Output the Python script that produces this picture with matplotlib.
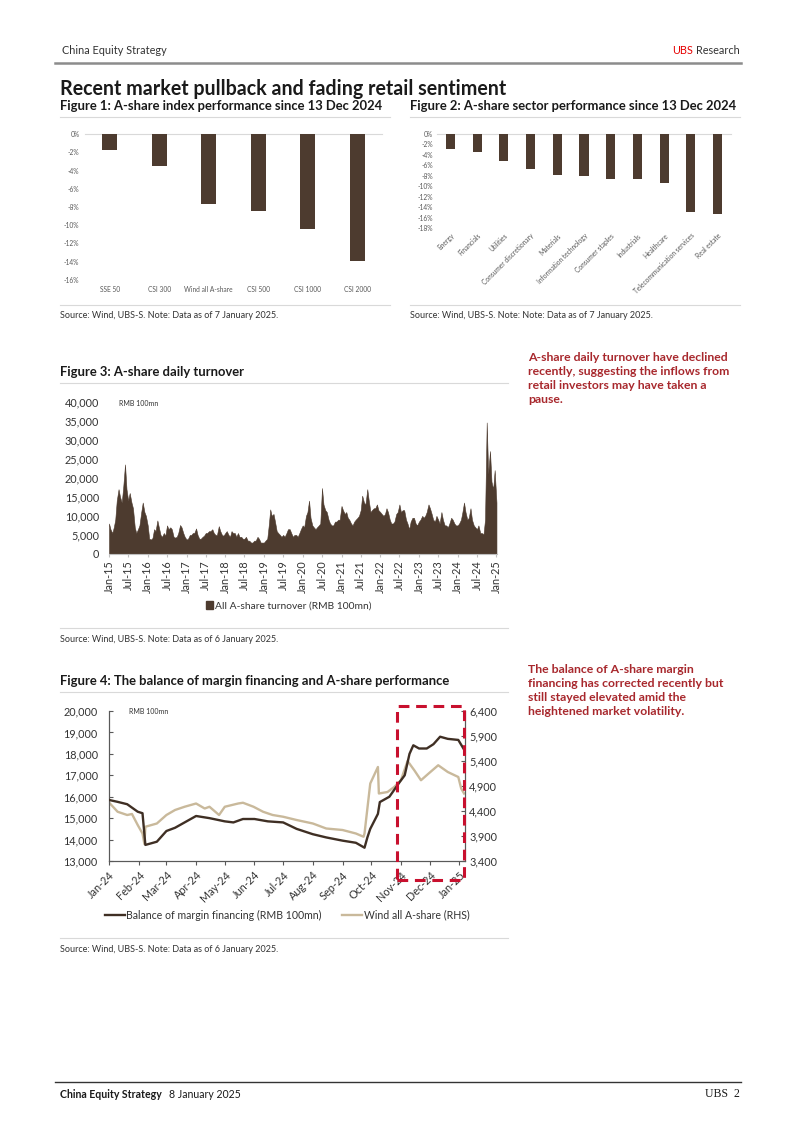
import numpy as np
import pandas as pd
import matplotlib.pyplot as plt
import matplotlib.dates as mdates
import matplotlib.transforms as mtransforms
from matplotlib.lines import Line2D
from matplotlib.patches import Rectangle, Patch

plt.rcParams['font.family'] = ['Lato', 'DejaVu Sans']

W, H = 802, 1134

# ---------------- data ----------------
idx_names = ['SSE 50', 'CSI 300', 'Wind all A-share', 'CSI 500', 'CSI 1000', 'CSI 2000']
idx_perf = [-1.7, -3.5, -7.7, -8.4, -10.4, -13.9]

sector_names = ['Energy', 'Financials', 'Utilities', 'Consumer discretionary', 'Materials',
                'Information technology', 'Consumer staples', 'Industrials', 'Healthcare',
                'Telecommunication services', 'Real estate']
sector_perf = [-2.9, -3.5, -5.1, -6.7, -7.8, -8.0, -8.6, -8.7, -9.3, -14.9, -15.3]

# A-share turnover, RMB 100mn, two readings per month (1st / 15th)
turn_2015 = [8000, 6500, 5500, 7000, 9000, 14000, 17000, 15000, 13500, 17500, 23500, 17000,
             14000, 16000, 13500, 12000, 7000, 5500, 6500, 7500, 11000, 13500, 11000, 10000]
turn_2016 = [7500, 4000, 3800, 4200, 6500, 6000, 8800, 7000, 5000, 4500, 5500, 4800,
             7500, 6500, 7000, 6500, 4500, 4300, 4500, 5500, 7600, 7000, 5500, 4500]
turn_2017 = [3800, 4000, 5000, 5000, 5500, 5500, 6700, 5000, 4000, 4000, 4500, 4800,
             5500, 5500, 6000, 6000, 6500, 5500, 5000, 5000, 7300, 6000, 5000, 4800]
turn_2018 = [5500, 6000, 5000, 4500, 6000, 5500, 5500, 4500, 5500, 4500, 4500, 4000,
             4000, 4500, 3500, 3500, 3000, 3000, 3500, 3500, 4500, 4000, 3000, 3000]
turn_2019 = [3000, 3500, 4000, 7500, 11700, 10000, 10500, 8500, 6000, 5500, 5000, 4500,
             5000, 4500, 5500, 6500, 6500, 5500, 4500, 5000, 5000, 4500, 5500, 6500]
turn_2020 = [7500, 7000, 10000, 11000, 14000, 9500, 7500, 7000, 6500, 7000, 7500, 8000,
             17300, 13000, 11500, 11000, 9000, 8000, 7500, 7500, 8500, 8500, 9000, 9000]
turn_2021 = [12600, 11500, 10500, 11000, 9500, 9000, 8000, 7500, 8500, 9000, 9500, 10000,
             11500, 15300, 13500, 13000, 17000, 14000, 11000, 11500, 12000, 12000, 13000, 11500]
turn_2022 = [11000, 10500, 10000, 10500, 12000, 11000, 9000, 8000, 8000, 8500, 10500, 11000,
             13000, 11000, 11500, 11500, 9000, 8000, 6500, 8500, 9500, 9500, 8000, 7500]
turn_2023 = [8500, 9000, 10000, 9500, 10000, 11000, 13000, 12000, 10500, 9000, 8500, 10000,
             9000, 8000, 11000, 9000, 7500, 7500, 7000, 8000, 9500, 9000, 8000, 7500]
turn_2024 = [7500, 8000, 9000, 11000, 13500, 11000, 9000, 9500, 12000, 9000, 7500, 7000,
             6500, 7500, 5500, 5500, 5200, 9000, 34500, 21000, 27000, 19000, 17000, 22000]
turn_2025 = [13500]

# margin financing balance (RMB 100mn)
margin_dates = ['2024-01-02', '2024-01-10', '2024-01-20', '2024-01-31', '2024-02-05',
                '2024-02-08', '2024-02-20', '2024-03-01', '2024-03-10', '2024-03-20',
                '2024-04-01', '2024-04-15', '2024-05-01', '2024-05-10', '2024-05-20',
                '2024-06-01', '2024-06-15', '2024-07-01', '2024-07-15', '2024-08-01',
                '2024-08-15', '2024-09-01', '2024-09-15', '2024-09-24', '2024-09-27',
                '2024-09-30', '2024-10-08', '2024-10-10', '2024-10-20', '2024-10-31',
                '2024-11-05', '2024-11-10', '2024-11-14', '2024-11-20', '2024-11-28',
                '2024-12-05', '2024-12-12', '2024-12-20', '2024-12-31', '2025-01-06']
margin_vals = [15840, 15760, 15650, 15300, 15230,
               13750, 13900, 14400, 14550, 14800,
               15100, 15000, 14850, 14800, 14960,
               14960, 14850, 14800, 14500, 14250,
               14100, 13950, 13850, 13620, 14100,
               14500, 15200, 15750, 16000, 16700,
               17000, 18000, 18400, 18250, 18250,
               18450, 18800, 18700, 18650, 18200]

# Wind all A-share index (RHS)
ashare_dates = ['2024-01-02', '2024-01-10', '2024-01-20', '2024-01-25', '2024-01-31',
                '2024-02-05', '2024-02-07', '2024-02-08', '2024-02-20', '2024-03-01',
                '2024-03-10', '2024-03-20', '2024-04-01', '2024-04-10', '2024-04-15',
                '2024-04-25', '2024-05-01', '2024-05-15', '2024-05-20', '2024-05-31',
                '2024-06-10', '2024-06-20', '2024-07-01', '2024-07-15', '2024-08-01',
                '2024-08-15', '2024-09-01', '2024-09-15', '2024-09-23', '2024-09-24',
                '2024-09-30', '2024-10-08', '2024-10-09', '2024-10-18', '2024-10-25',
                '2024-11-01', '2024-11-08', '2024-11-15', '2024-11-22', '2024-11-30',
                '2024-12-10', '2024-12-20', '2024-12-31', '2025-01-03', '2025-01-06']
ashare_vals = [4550, 4385, 4320, 4340, 4120,
               3950, 3740, 4085, 4150, 4320,
               4420, 4485, 4550, 4450, 4485,
               4320, 4485, 4550, 4565, 4485,
               4385, 4320, 4285, 4220, 4150,
               4050, 4020, 3950, 3885, 3950,
               4950, 5280, 4750, 4780, 4880,
               5015, 5400, 5215, 5015, 5150,
               5315, 5180, 5080, 4850, 4750]

brown = '#4d3b2f'
beige = '#c9b99b'
red_txt = '#a8282d'
grey_txt = '#595959'


def fx(px):
    return px / W


def fy(py):
    return 1 - py / H


def add_ax(left, top, right, bottom):
    return fig.add_axes([fx(left), fy(bottom), (right - left) / W, (bottom - top) / H])


def hline(y, x0, x1, color='#d9d9d9', lw=0.8):
    fig.add_artist(Line2D([fx(x0), fx(x1)], [fy(y), fy(y)], color=color, lw=lw))


fig = plt.figure(figsize=(W / 100, H / 100), dpi=100)
renderer = fig.canvas.get_renderer()

# ---------------- page header ----------------
fig.text(fx(62), fy(51), 'China Equity Strategy', fontsize=7.8, color='#333333', va='center')
t_res = fig.text(fx(740), fy(51), 'Research', fontsize=7.8, color='#333333', va='center',
                 ha='right')
bb = t_res.get_window_extent(renderer)
fig.text((bb.x0 - 3) / W, fy(51), 'UBS', fontsize=7.8, color='#e60000', va='center',
         ha='right')
hline(63, 55, 741, color='#8c8c8c', lw=1.8)

fig.text(fx(60), fy(89), 'Recent market pullback and fading retail sentiment',
         fontsize=14.1, fontweight='bold', color='#1a1a1a', va='center')

# ---------------- figure 1 ----------------
fig.text(fx(60), fy(106), 'Figure 1: A-share index performance since 13 Dec 2024',
         fontsize=9.4, fontweight='bold', color='#1a1a1a', va='center')
hline(117, 60, 390)
ax1 = add_ax(85, 134, 382, 280)
x1 = np.arange(len(idx_names))
ax1.bar(x1, idx_perf, width=0.3, color=brown)
ax1.axhline(0, color='#d9d9d9', lw=0.8, zorder=0, clip_on=False)
ax1.set_ylim(-16, 0)
ax1.set_xlim(-0.5, len(idx_names) - 0.5)
ax1.set_yticks(np.arange(-16, 1, 2))
ax1.set_yticklabels([f'{v}%' for v in np.arange(-16, 1, 2)])
ax1.set_xticks(x1)
ax1.set_xticklabels(idx_names)
ax1.tick_params(length=0, labelsize=4.8, labelcolor=grey_txt, pad=4)
for s in ax1.spines.values():
    s.set_visible(False)
hline(305, 60, 390)
fig.text(fx(60), fy(315), 'Source: Wind, UBS-S. Note: Data as of 7 January 2025.',
         fontsize=6.5, color='#333333', va='center')

# ---------------- figure 2 ----------------
fig.text(fx(410), fy(106), 'Figure 2: A-share sector performance since 13 Dec 2024',
         fontsize=9.4, fontweight='bold', color='#1a1a1a', va='center')
hline(117, 410, 740)
ax2 = add_ax(437, 134, 731, 228)
x2 = np.arange(len(sector_names))
ax2.bar(x2, sector_perf, width=0.34, color=brown)
ax2.axhline(0, color='#d9d9d9', lw=0.8, zorder=0, clip_on=False)
ax2.set_ylim(-18, 0)
ax2.set_xlim(-0.5, len(sector_names) - 0.5)
ax2.set_yticks(np.arange(-18, 1, 2))
ax2.set_yticklabels([f'{v}%' for v in np.arange(-18, 1, 2)])
ax2.set_xticks(x2)
ax2.set_xticklabels(sector_names, rotation=45, ha='right', rotation_mode='anchor')
ax2.tick_params(length=0, labelsize=4.8, labelcolor=grey_txt, pad=3)
for s in ax2.spines.values():
    s.set_visible(False)
hline(305, 410, 740)
fig.text(fx(410), fy(315), 'Source: Wind, UBS-S. Note: Note: Data as of 7 January 2025.',
         fontsize=6.5, color='#333333', va='center')

# ---------------- figure 3 ----------------
fig.text(fx(60), fy(372), 'Figure 3: A-share daily turnover',
         fontsize=9.4, fontweight='bold', color='#1a1a1a', va='center')
hline(383, 60, 508)
turnover = (turn_2015 + turn_2016 + turn_2017 + turn_2018 + turn_2019 + turn_2020
            + turn_2021 + turn_2022 + turn_2023 + turn_2024 + turn_2025)
turn_dates = pd.date_range('2015-01-01', periods=len(turnover), freq='SMS')
ax3 = add_ax(109, 401.5, 497, 554)
ax3.fill_between(turn_dates, turnover, 0, color=brown, lw=0.4, edgecolor=brown)
ax3.set_ylim(0, 40000)
ax3.set_xlim(pd.Timestamp('2015-01-01'), pd.Timestamp('2025-01-06'))
ax3.set_yticks(np.arange(0, 40001, 5000))
ax3.yaxis.set_major_formatter(plt.FuncFormatter(lambda v, p: f'{v:,.0f}'))
ax3.xaxis.set_major_locator(mdates.MonthLocator(bymonth=[1, 7]))
ax3.xaxis.set_major_formatter(mdates.DateFormatter('%b-%y'))
ax3.tick_params(axis='x', rotation=90, labelsize=7.8, labelcolor='#333333',
                length=2.5, color='#bfbfbf', pad=2)
ax3.tick_params(axis='y', length=0, labelsize=7.8, labelcolor='#333333', pad=7)
for s in ['top', 'right', 'left']:
    ax3.spines[s].set_visible(False)
ax3.spines['bottom'].set_color('#bfbfbf')
ax3.text(0.025, 0.985, 'RMB 100mn', transform=ax3.transAxes, fontsize=5, color='#333333',
         va='center')
fig.legend(handles=[Patch(color=brown, label='All A-share turnover (RMB 100mn)')],
           loc='center', bbox_to_anchor=(fx(289), fy(606)), frameon=False,
           fontsize=7.4, handlelength=0.7, handleheight=0.7, handletextpad=0.2,
           labelcolor='#333333')
hline(628, 60, 508)
fig.text(fx(60), fy(639), 'Source: Wind, UBS-S. Note: Data as of 6 January 2025.',
         fontsize=6.5, color='#333333', va='center')

fig.text(fx(528), fy(352),
         'A-share daily turnover have declined\nrecently, suggesting the inflows from\n'
         'retail investors may have taken a\npause.',
         fontsize=8.8, fontweight='bold', color=red_txt, va='top', linespacing=1.35)

# ---------------- figure 4 ----------------
fig.text(fx(60), fy(681), 'Figure 4: The balance of margin financing and A-share performance',
         fontsize=9.4, fontweight='bold', color='#1a1a1a', va='center')
hline(692, 60, 508)
ax4 = add_ax(109, 711, 465, 861)
ax4b = ax4.twinx()
l1, = ax4.plot(pd.to_datetime(margin_dates), margin_vals, color='#3f2f24', lw=1.7, zorder=3,
               label='Balance of margin financing (RMB 100mn)')
l2, = ax4b.plot(pd.to_datetime(ashare_dates), ashare_vals, color=beige, lw=1.7,
                label='Wind all A-share (RHS)')
ax4.set_zorder(ax4b.get_zorder() + 1)
ax4.patch.set_visible(False)
ax4.set_ylim(13000, 20000)
ax4b.set_ylim(3400, 6400)
ax4.set_xlim(pd.Timestamp('2024-01-01'), pd.Timestamp('2025-01-07'))
ax4.set_yticks(np.arange(13000, 20001, 1000))
ax4b.set_yticks(np.arange(3400, 6401, 500))
fmt = plt.FuncFormatter(lambda v, p: f'{v:,.0f}')
ax4.yaxis.set_major_formatter(fmt)
ax4b.yaxis.set_major_formatter(fmt)
ax4.xaxis.set_major_locator(mdates.MonthLocator())
ax4.xaxis.set_major_formatter(mdates.DateFormatter('%b-%y'))
for lab in ax4.get_xticklabels():
    lab.set_rotation(45)
    lab.set_ha('right')
    lab.set_rotation_mode('anchor')
ax4.tick_params(axis='x', labelsize=7.8, labelcolor='#333333', length=3,
                color='#595959', pad=3)
ax4.tick_params(axis='y', labelsize=7.8, labelcolor='#333333', length=3, direction='in',
                color='#595959', pad=8)
ax4b.tick_params(axis='y', labelsize=7.8, labelcolor='#333333', length=3, direction='in',
                 color='#595959', pad=3)
for a in (ax4, ax4b):
    a.spines['top'].set_visible(False)
    for s in ['left', 'right', 'bottom']:
        a.spines[s].set_color('#595959')
ax4.text(0.055, 0.995, 'RMB 100mn', transform=ax4.transAxes, fontsize=5, color='#333333',
         va='center')

# highlight of the recent period
trans = mtransforms.blended_transform_factory(ax4.transData, ax4.transAxes)
x_start = mdates.date2num(pd.Timestamp('2024-10-28'))
x_end = mdates.date2num(pd.Timestamp('2025-01-06'))
ax4.add_patch(Rectangle((x_start, -0.127), x_end - x_start, 1.16, transform=trans,
                        fill=False, edgecolor='#c8102e', lw=2.2, ls=(0, (3.5, 2.2)),
                        clip_on=False, zorder=5))

fig.legend(handles=[l1, l2], loc='center', bbox_to_anchor=(fx(287), fy(915)), ncol=2,
           frameon=False, fontsize=7.6, handlelength=1.9, handletextpad=0.1,
           columnspacing=2.0, labelcolor='#333333')
hline(938, 60, 508)
fig.text(fx(60), fy(949), 'Source: Wind, UBS-S. Note: Data as of 6 January 2025.',
         fontsize=6.5, color='#333333', va='center')

fig.text(fx(528), fy(664),
         'The balance of A-share margin\nfinancing has corrected recently but\n'
         'still stayed elevated amid the\nheightened market volatility.',
         fontsize=8.8, fontweight='bold', color=red_txt, va='top', linespacing=1.35)

# ---------------- page footer ----------------
hline(1082, 55, 741, color='#333333', lw=1.0)
t_foot = fig.text(fx(60), fy(1094), 'China Equity Strategy', fontsize=7.6, fontweight='bold',
                  color='#1a1a1a', va='center')
bb = t_foot.get_window_extent(renderer)
fig.text((bb.x1 + 7) / W, fy(1094), '8 January 2025', fontsize=7.6, color='#1a1a1a',
         va='center')
fig.text(fx(740), fy(1094), 'UBS  2', fontsize=8.5, color='#1a1a1a', va='center', ha='right',
         family=['Liberation Serif', 'DejaVu Serif'])

fig.savefig('out.png', dpi=100)
